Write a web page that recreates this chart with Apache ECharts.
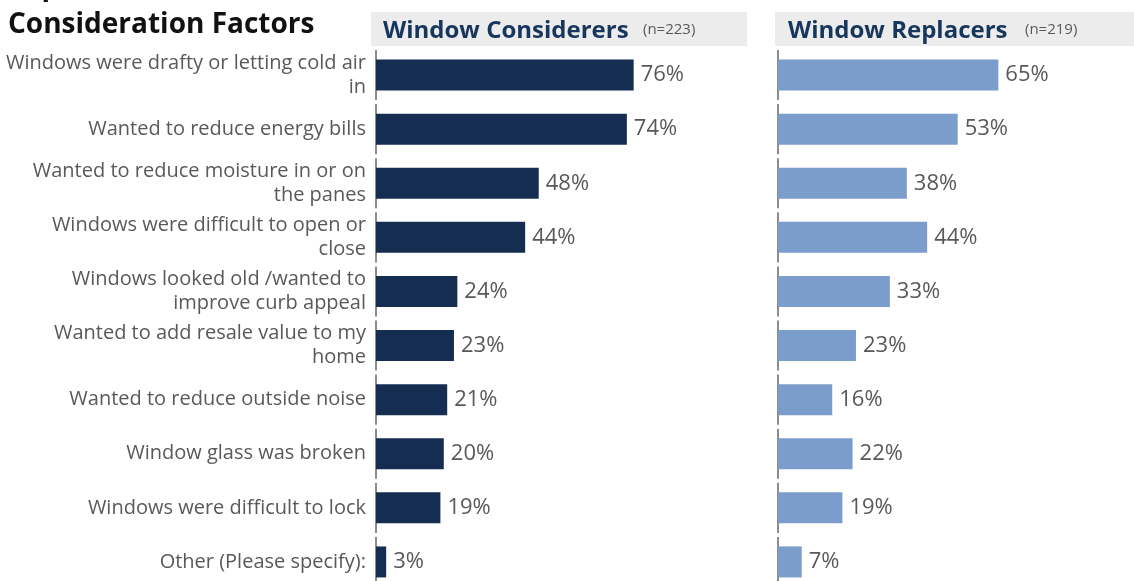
<!DOCTYPE html>
<html>
<head>
<meta charset="utf-8">
<script src="https://cdn.jsdelivr.net/npm/echarts@6/dist/echarts.min.js"></script>
<style>
  html, body { margin: 0; padding: 0; background: #ffffff; overflow: hidden; }
  /* the last row runs slightly past the bottom edge of the page */
  #chart { width: 1134px; height: 589px; }
</style>
</head>
<body>
<div id="chart"></div>
<script>
// Consideration factors, in display order (top to bottom)
const categories = [
  'Windows were drafty or letting cold air\nin',
  'Wanted to reduce energy bills',
  'Wanted to reduce moisture in or on\nthe panes',
  'Windows were difficult to open or\nclose',
  'Windows looked old /wanted to\nimprove curb appeal',
  'Wanted to add resale value to my\nhome',
  'Wanted to reduce outside noise',
  'Window glass was broken',
  'Windows were difficult to lock',
  'Other (Please specify):'
];

// Share of respondents (%) per group
const considerers = [76, 74, 48, 44, 24, 23, 21, 20, 19, 3];
const replacers   = [65, 53, 38, 44, 33, 23, 16, 22, 19, 7];

const panelTitles = ['Window Considerers', 'Window Replacers'];
const panelSizes  = ['(n=223)', '(n=219)'];

const FONT = '"Open Sans", "Noto Sans", sans-serif';
const GREY_TEXT = '#595959';
const HEAD_BLUE = '#17365d';
const AXIS_GREY = '#8c8c8c';

const chart = echarts.init(document.getElementById('chart'), null, { renderer: 'canvas' });

// Vertical axis drawn as one segment per category band, with small gaps between bands
function axisSegments(gridIndex) {
  return {
    type: 'custom',
    xAxisIndex: gridIndex,
    yAxisIndex: gridIndex,
    silent: true,
    z: 1,
    data: categories.map((c, i) => [0, i]),
    encode: { x: 0, y: 1 },
    renderItem: function (params, api) {
      const p = api.coord([0, api.value(1)]);
      const h = api.size([0, 1])[1];
      return {
        type: 'line',
        shape: { x1: p[0], y1: p[1] - h / 2 + 2, x2: p[0], y2: p[1] + h / 2 - 2 },
        style: { stroke: AXIS_GREY, lineWidth: 2 }
      };
    }
  };
}

function barSeries(gridIndex, values, color) {
  return {
    type: 'bar',
    xAxisIndex: gridIndex,
    yAxisIndex: gridIndex,
    data: values,
    barWidth: 31,
    z: 2,
    itemStyle: { color: color },
    label: {
      show: true,
      position: 'right',
      distance: 7,
      formatter: '{c}%',
      fontFamily: FONT,
      fontSize: 22,
      color: GREY_TEXT
    },
    silent: true
  };
}

const gridTop = 48;
const gridHeight = 541;

const option = {
  backgroundColor: '#ffffff',
  animation: false,
  textStyle: { fontFamily: FONT },
  grid: [
    { left: 376, top: gridTop, width: 339, height: gridHeight, containLabel: false },
    { left: 778, top: gridTop, width: 339, height: gridHeight, containLabel: false }
  ],
  xAxis: [
    { type: 'value', gridIndex: 0, min: 0, max: 100, show: false },
    { type: 'value', gridIndex: 1, min: 0, max: 100, show: false }
  ],
  yAxis: [
    {
      type: 'category', gridIndex: 0, data: categories, inverse: true,
      axisLine: { show: false }, axisTick: { show: false },
      axisLabel: {
        show: true, margin: 10, fontFamily: FONT, fontSize: 20,
        lineHeight: 24, color: GREY_TEXT, align: 'right'
      }
    },
    {
      type: 'category', gridIndex: 1, data: categories, inverse: true,
      axisLine: { show: false }, axisTick: { show: false },
      axisLabel: { show: false }
    }
  ],
  graphic: [
    // panel header bands
    { type: 'rect', shape: { x: 371, y: 12, width: 376, height: 34 }, style: { fill: '#ececec' }, silent: true },
    { type: 'rect', shape: { x: 775, y: 12, width: 359, height: 34 }, style: { fill: '#ececec' }, silent: true },
    {
      type: 'text', x: 383, y: 31, silent: true,
      style: { text: panelTitles[0], font: 'bold 24px ' + FONT, fill: HEAD_BLUE, verticalAlign: 'middle' }
    },
    {
      type: 'text', x: 643, y: 30, silent: true,
      style: { text: panelSizes[0], font: '15px ' + FONT, fill: GREY_TEXT, verticalAlign: 'middle' }
    },
    {
      type: 'text', x: 788, y: 31, silent: true,
      style: { text: panelTitles[1], font: 'bold 24px ' + FONT, fill: HEAD_BLUE, verticalAlign: 'middle' }
    },
    {
      type: 'text', x: 1025, y: 30, silent: true,
      style: { text: panelSizes[1], font: '15px ' + FONT, fill: GREY_TEXT, verticalAlign: 'middle' }
    },
    // chart title, first line runs off the top edge
    {
      type: 'text', x: 8, y: 44, silent: true,
      style: {
        text: 'Top\nConsideration Factors', font: 'bold 28px ' + FONT, fill: '#111111',
        verticalAlign: 'bottom', lineHeight: 38
      }
    }
  ],
  series: [
    axisSegments(0),
    axisSegments(1),
    barSeries(0, considerers, '#142d51'),
    barSeries(1, replacers, '#7b9dcb')
  ]
};

chart.setOption(option);
</script>
</body>
</html>
